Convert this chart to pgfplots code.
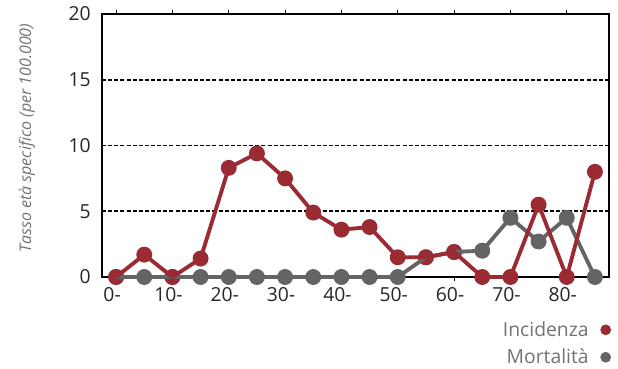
\documentclass[border=0pt]{standalone}
\usepackage{pgfplots}
\pgfplotsset{compat=1.18}
\usepackage{fontspec}
\setmainfont{Open Sans}
\definecolor{increda}{HTML}{9B2B33}
\definecolor{mortgrey}{HTML}{646464}
\definecolor{txt}{HTML}{262626}
\definecolor{legtxt}{HTML}{767171}
\begin{document}
\begin{tikzpicture}
\begin{axis}[
  set layers=standard,
  clip=false,
  scale only axis, width=380.25pt, height=197.25pt,
  xmin=-0.5, xmax=17.5, ymin=0, ymax=20,
  xtick={0,2,...,16}, xticklabels={0-,10-,20-,30-,40-,50-,60-,70-,80-},
  ytick={0,5,10,15,20},
  ymajorgrids,
  grid style={black, line width=1.4pt, dash pattern=on 3pt off 1.6pt},
  axis line style={black, line width=1.5pt},
  tick align=outside,
  xtick style={black, line width=0.8pt},
  major tick length=3pt,
  ytick style={draw=none},
  /pgf/number format/assume math mode=true,
  tick label style={font=\fontsize{14.5}{16}\selectfont, text=txt},
  xticklabel style={xshift=-3pt, yshift=-1pt},
  yticklabel style={xshift=-2pt},
  ylabel={\textit{Tasso età specifico (per 100.000)}},
  every axis y label/.style={at={(axis description cs:-0.148,0.528)}, rotate=90, anchor=center, font=\fontsize{12}{14}\selectfont, text=legtxt},
  legend style={at={(axis description cs:1.004,-0.158)}, anchor=north east, draw=none, fill=none, inner sep=0pt,
    font=\fontsize{14.5}{16}\selectfont, text=legtxt, row sep=4pt, column sep=7pt},
  legend plot pos=right,
  legend cell align=right,
]
\addlegendimage{only marks, mark=*, mark size=3.8pt, color=increda}
\addlegendentry{Incidenza}
\addlegendimage{only marks, mark=*, mark size=3.8pt, color=mortgrey}
\addlegendentry{Mortalità}
\addplot[forget plot, on layer=axis foreground, color=mortgrey, line width=2.9pt, mark=*, mark size=4.5pt] coordinates {
(0,0) (1,0) (2,0) (3,0) (4,0) (5,0) (6,0) (7,0) (8,0) (9,0) (10,0)
(11,1.5) (12,1.9) (13,2.0) (14,4.5) (15,2.7) (16,4.5) (17,0)};
\addplot[forget plot, on layer=axis foreground, color=increda, line width=2.9pt, mark=*, mark size=4.5pt] coordinates {
(0,0) (1,1.7) (2,0) (3,1.4) (4,8.3) (5,9.4) (6,7.5) (7,4.9) (8,3.6) (9,3.8) (10,1.5)
(11,1.5) (12,1.9) (13,0) (14,0) (15,5.5) (16,0) (17,8.0)};
\end{axis}
\path (-76.5pt,-67.5pt) rectangle (387pt,207.75pt);
\end{tikzpicture}
\end{document}
